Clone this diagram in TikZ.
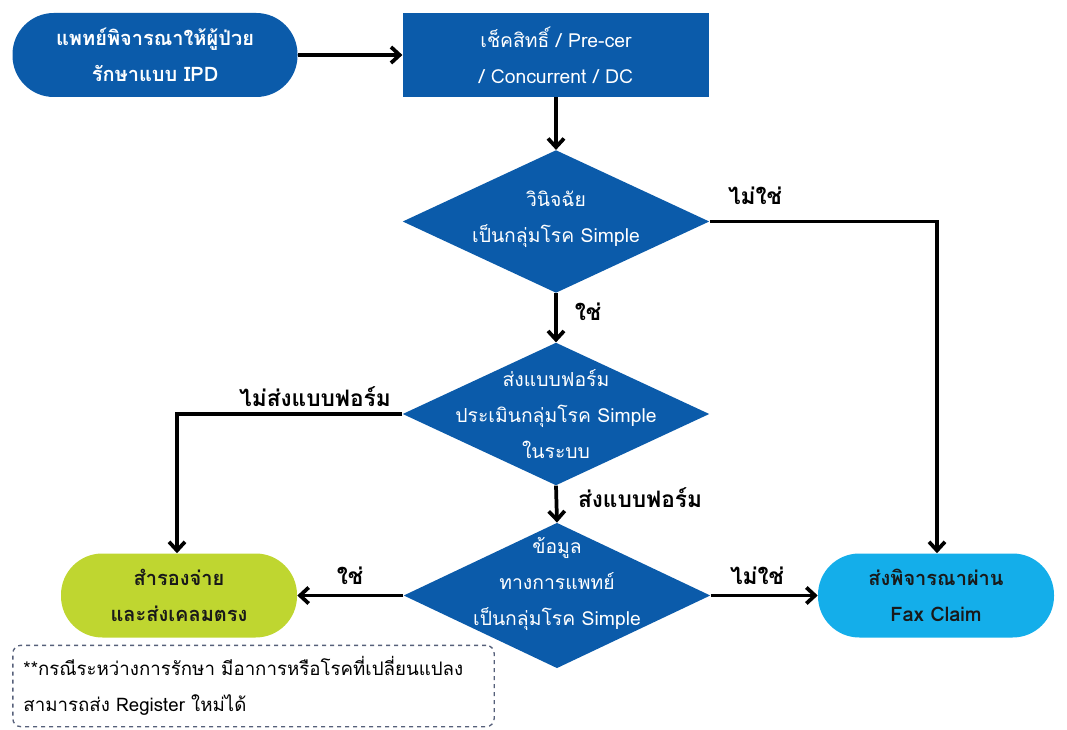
\documentclass[tikz,border=0pt]{standalone}
\usepackage{fontspec}
\setmainfont[Script=Thai]{Loma}
\newfontfamily\thai[Script=Thai]{Loma}
\usetikzlibrary{shapes.geometric,arrows.meta}
\definecolor{dblue}{HTML}{0B5BAA}
\definecolor{lgreen}{HTML}{BFD630}
\definecolor{sky}{HTML}{14AEEA}
\definecolor{dashc}{HTML}{56607A}
\tikzset{
  every node/.style={font=\thai\fontsize{14.5}{27}\selectfont},
  pill/.style={rectangle, rounded corners=31pt, minimum width=#1, minimum height=63pt, inner sep=0pt, align=center, font=\thai\bfseries\fontsize{15}{27}\selectfont},
  boxstep/.style={rectangle, fill=dblue, text=white, minimum width=230pt, minimum height=63pt, inner sep=0pt, align=center},
  dia/.style={diamond, fill=dblue, minimum width=230pt, minimum height=#1, inner sep=0pt},
  diatext/.style={text=white, align=center, inner sep=0pt},
  conn/.style={line width=2.8pt, -{Straight Barb[length=6.5pt,width=12pt,line width=2.8pt]}},
  lbl/.style={font=\thai\bfseries\fontsize{17}{27}\selectfont, inner sep=0pt},
  notebox/.style={draw=dashc, dashed, line width=1pt, rounded corners=6pt, minimum width=361pt, minimum height=61pt, align=left, inner sep=0pt, text width=345pt, font=\thai\fontsize{14}{27.5}\selectfont},
}
\begin{document}
\begin{tikzpicture}[x=0.75pt,y=-0.75pt]
\useasboundingbox (0,0) rectangle (1067,730);
% nodes
\node[pill=213.75pt, fill=dblue, text=white] (start) at (155,55) {แพทย์พิจารณาให้ผู้ป่วย\\รักษาแบบ IPD};
\node[boxstep] (check) at (556,55) {เช็คสิทธิ์ / Pre-cer\\/ Concurrent / DC};
\node[dia=107pt] (d1) at (556,221.5) {};
\node[diatext] at (556,219) {วินิจฉัย\\เป็นกลุ่มโรค Simple};
\node[dia=107pt] (d2) at (556,414) {};
\node[diatext] at (d2) {ส่งแบบฟอร์ม\\ประเมินกลุ่มโรค Simple\\ในระบบ};
\node[dia=109pt] (d3) at (557,595.5) {};
\node[diatext] at (557,584) {ข้อมูล\\ทางการแพทย์\\เป็นกลุ่มโรค Simple};
\node[pill=177pt, fill=lgreen, text=black!90] (direct) at (179,595.5) {สำรองจ่าย\\และส่งเคลมตรง};
\node[pill=177pt, fill=sky, text=black!90] (fax) at (936,595.5) {ส่งพิจารณาผ่าน\\Fax Claim};
\node[notebox] (note) at (253.5,686) {**กรณีระหว่างการรักษา มีอาการหรือโรคที่เปลี่ยนแปลง\\สามารถส่ง Register ใหม่ได้};
% corner coordinates
\coordinate (c1) at (937,221.5);
\coordinate (c2) at (177,414);
% connectors
\draw[conn] (start.east) -- (check.west);
\draw[conn] (check.south) -- (d1.north);
\draw[conn] (d1.south) -- (d2.north);
\draw[conn] (d2.south) -- (d3.north);
\draw[conn] (d1.east) -- (c1) -- (fax.north -| c1);
\draw[conn] (d2.west) -- (c2) -- (direct.north -| c2);
\draw[conn] (d3.west) -- (direct.east);
\draw[conn] (d3.east) -- (fax.west);
% labels
\node[lbl] (l1) at (755,196) {ไม่ใช่};
\node[lbl] (l2) at (588,312) {ใช่};
\node[lbl] (l3) at (315,397) {ไม่ส่งแบบฟอร์ม};
\node[lbl] (l4) at (640,498) {ส่งแบบฟอร์ม};
\node[lbl] (l5) at (350,576) {ใช่};
\node[lbl] (l6) at (757,576) {ไม่ใช่};
\end{tikzpicture}
\end{document}
